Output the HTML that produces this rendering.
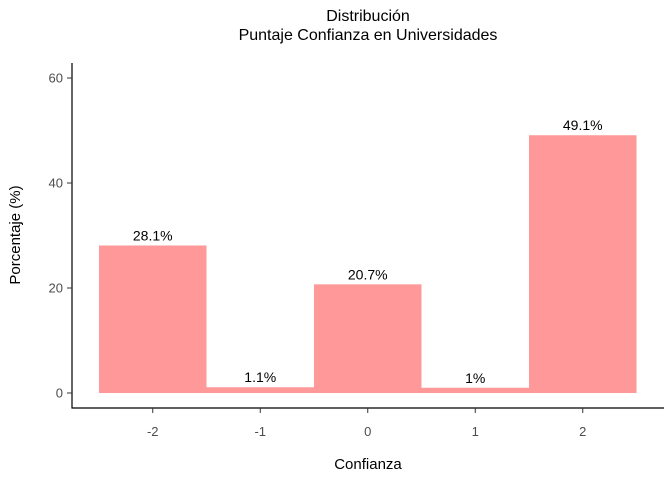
<!DOCTYPE html>
<html><head><meta charset="utf-8">
<style>
body{margin:0;background:#fff;}
svg{display:block;font-family:"Liberation Sans",Arial,sans-serif;}
</style></head>
<body>
<svg id="chart" width="672" height="480" viewBox="0 0 672 480">
<text x="368" y="21" text-anchor="middle" font-size="16" fill="#000">Distribución</text>
<text x="368" y="40" text-anchor="middle" font-size="16" fill="#000">Puntaje Confianza en Universidades</text>
<g id="bars"></g>
<g id="axes"></g>
<text x="368" y="469" text-anchor="middle" font-size="15" fill="#000">Confianza</text>
<text transform="translate(20,235) rotate(-90)" text-anchor="middle" font-size="15" fill="#000">Porcentaje (%)</text>
</svg>
<script>
const categories = ["-2","-1","0","1","2"];
const values = [28.1, 1.1, 20.7, 1.0, 49.1];
const valueLabels = ["28.1%","1.1%","20.7%","1%","49.1%"];
const yTicks = [0,20,40,60];

const NS="http://www.w3.org/2000/svg";
const y0=393, pxPerUnit=5.25;
const xStart=99, band=107.5;
function yScale(v){return y0 - v*pxPerUnit;}
function xCenter(i){return xStart + band*(i+0.5);}
function mk(tag,attrs,parent){const e=document.createElementNS(NS,tag);for(const k in attrs)e.setAttribute(k,attrs[k]);parent.appendChild(e);return e;}

const bars=document.getElementById('bars');
values.forEach((v,i)=>{
  const r=mk('rect',{x:xStart+band*i,y:yScale(v),width:band,height:y0-yScale(v),fill:'#FF9999'},bars);
  
  
  const t=mk('text',{x:xCenter(i),y:yScale(v)-5,'text-anchor':'middle','font-size':'14',fill:'#000'},bars);
  t.textContent=valueLabels[i];
  
  
});

const axes=document.getElementById('axes');
const yl=mk('line',{x1:72,y1:63,x2:72,y2:408.5,stroke:'#000','stroke-width':1.2},axes);


const xl=mk('line',{x1:71.5,y1:408,x2:664,y2:408,stroke:'#000','stroke-width':1.2},axes);


yTicks.forEach(v=>{
  const yy=yScale(v);
  mk('line',{x1:67,y1:yy,x2:72,y2:yy,stroke:'#333'},axes);
  const t=mk('text',{x:63,y:yy+4.5,'text-anchor':'end','font-size':'13',fill:'#4d4d4d'},axes);
  t.textContent=v;
  
  
});
categories.forEach((c,i)=>{
  const xx=xCenter(i);
  mk('line',{x1:xx,y1:408,x2:xx,y2:413,stroke:'#333'},axes);
  const t=mk('text',{x:xx,y:436,'text-anchor':'middle','font-size':'13',fill:'#4d4d4d'},axes);
  t.textContent=c;
  
  
});
</script>
</body></html>
